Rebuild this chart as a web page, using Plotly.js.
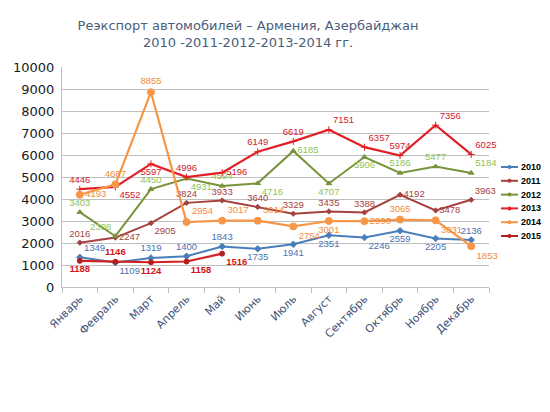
<!DOCTYPE html>
<html>
<head>
<meta charset="utf-8">
<script src="https://cdn.plot.ly/plotly-3.0.1.min.js"></script>
<style>html,body{margin:0;padding:0;background:#fff;}#chart{width:550px;height:412px;}</style>
</head>
<body>
<div id="chart"></div>
<script>
const months = ['Январь','Февраль','Март','Апрель','Май','Июнь','Июль','Август','Сентябрь','Октябрь','Ноябрь','Декабрь'];
const seriesNames = ['2010','2011','2012','2013','2014','2015'];
const v2010 = [1349,1109,1319,1400,1843,1735,1941,2351,2246,2559,2205,2136];
const v2011 = [2016,2247,2905,3824,3933,3640,3329,3435,3388,4192,3478,3963];
const v2012 = [3403,2308,4450,4931,4594,4716,6185,4707,5906,5186,5477,5184];
const v2013 = [4446,4552,5597,4996,5196,6149,6619,7151,6357,5974,7356,6025];
const v2014 = [4193,4667,8855,2954,3017,3014,2754,3001,2990,3065,3031,1853];
const v2015 = [1188,1146,1124,1158,1516];

const TC='top center', BC='bottom center', TR='top right', BR='bottom right', MR='middle right', TL='top left';
const styles = [
  {line:'#4A7EBB', text:'#4A72B0', sym:'diamond', ms:5, w:2,
   pos:[TR,BR,TC,TC,TC,BC,BC,BC,BR,BC,BC,TC]},
  {line:'#A5423F', text:'#A5423F', sym:'diamond', ms:4, w:2,
   pos:[TC,MR,BR,TC,TC,TC,TC,TC,TC,MR,MR,TR]},
  {line:'#77933C', text:'#92C352', sym:'triangle-up', ms:5, w:2,
   pos:[TC,TL,TC,BR,TC,BR,MR,BC,BC,TC,TC,TR]},
  {line:'#E21F26', text:'#D0202E', sym:'cross-thin-open', ms:5, w:2.2,
   pos:[TC,BR,BC,TC,MR,TC,TC,TR,TR,TC,TR,TR]},
  {line:'#F79646', text:'#F28B3A', sym:'circle', ms:7, w:2.2,
   pos:[MR,TC,TC,TR,TR,TR,BR,BC,MR,TC,BR,BR]},
  {line:'#D42020', text:'#D41515', sym:'circle', ms:5, w:2.2,
   pos:[BC,TC,BC,BR,BR]}
];
const legendColors = ['#4A7EBB','#A5423F','#77933C','#E21F26','#F79646','#B41E1E'];
const allValues = [v2010,v2011,v2012,v2013,v2014,v2015];

const traces = allValues.map((vals,i)=>{
  const s = styles[i];
  return {
    type:'scatter', mode:'lines+markers+text',
    name: seriesNames[i],
    x: months.slice(0, vals.length), y: vals,
    text: vals.map(String),
    textposition: s.pos,
    textfont: {family:'Liberation Sans, Arial, sans-serif', size:9.5, color:s.text, weight: i===5 ? 'bold' : 'normal'},
    line: {color: s.line, width: s.w},
    marker: {color: legendColors[i], size: s.ms, symbol: s.sym, line:{color: legendColors[i], width:1}},
    cliponaxis:false, showlegend:false
  };
});

// manual legend (compact rows as in the reference)
const L = 62, W = 427, B = 287, H = 220;
const px2x = p => (p - L) / W;
const py2y = p => (B - p) / H;
const shapes = [], annotations = [];
seriesNames.forEach((nm,i)=>{
  const yy = py2y(167 + i*13.8);
  shapes.push({type:'line', xref:'paper', yref:'paper', x0:px2x(501), x1:px2x(518), y0:yy, y1:yy,
               line:{color: i===5 ? '#B41E1E' : styles[i].line, width:2}});
  shapes.push({type:'circle', xref:'paper', yref:'paper', x0:px2x(507.5), x1:px2x(511.5), y0:yy-2/H, y1:yy+2/H,
               fillcolor:legendColors[i], line:{color:legendColors[i], width:0}});
  annotations.push({xref:'paper', yref:'paper', x:px2x(519), y:yy, xanchor:'left', yanchor:'middle',
                    text:'<b>'+nm+'</b>', showarrow:false,
                    font:{family:'Liberation Sans, Arial, sans-serif', size:9, color:'#000'}});
});

const layout = {
  width:550, height:412,
  paper_bgcolor:'#ffffff', plot_bgcolor:'#ffffff',
  margin:{l:62, r:61, t:67, b:125},
  title:{text:'Реэкспорт автомобилей – Армения, Азербайджан<br>2010 -2011-2012-2013-2014 гг.',
         font:{family:'DejaVu Sans, sans-serif', size:13, color:'#4A5E7A'},
         x:0.451, xanchor:'center', y:0.928, yanchor:'top'},
  xaxis:{type:'category', categoryorder:'array', categoryarray:months,
         range:[-0.5,11.5], tickson:'boundaries', ticks:'outside', ticklen:5, tickcolor:'#BFBFBF',
         showgrid:false, showline:true, linecolor:'#BFBFBF', linewidth:1,
         tickangle:-45, tickfont:{family:'DejaVu Sans, sans-serif', size:11, color:'#3F5277'},
         fixedrange:true},
  yaxis:{range:[0,10000], dtick:1000, tickformat:'d', showgrid:true, gridcolor:'#BFBFBF', gridwidth:1,
         showline:true, linecolor:'#BFBFBF', zeroline:false, ticks:'',
         tickfont:{family:'DejaVu Sans, sans-serif', size:13, color:'#1a1a1a'},
         ticklabelstandoff:4, fixedrange:true},
  showlegend:false,
  shapes: shapes,
  annotations: annotations,
  font:{family:'DejaVu Sans, sans-serif'}
};

Plotly.newPlot('chart', traces, layout, {displayModeBar:false, staticPlot:true});
</script>
</body>
</html>
